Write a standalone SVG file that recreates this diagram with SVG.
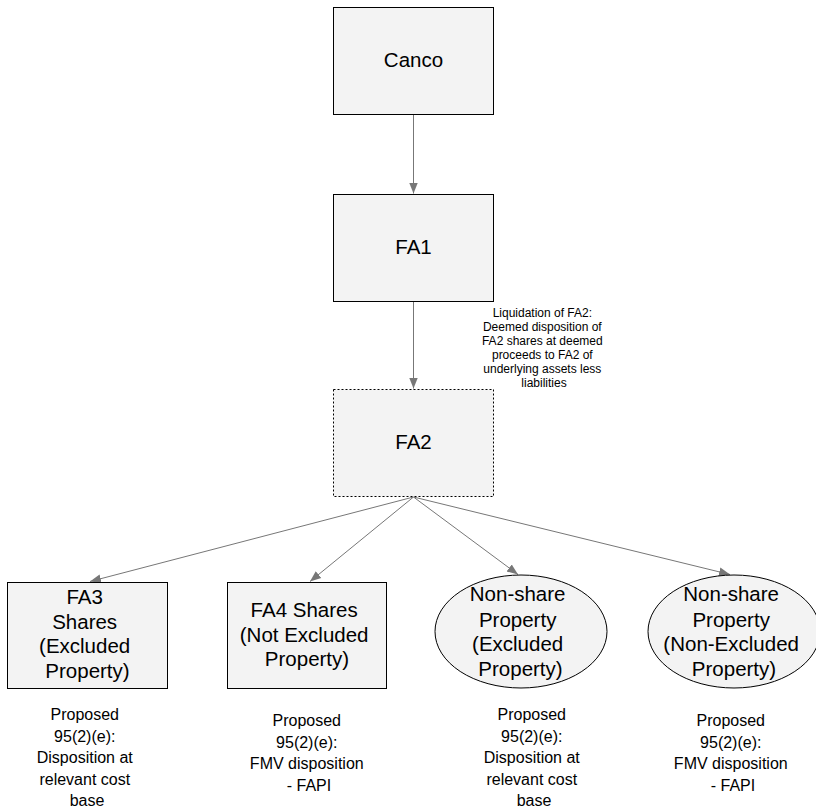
<svg xmlns="http://www.w3.org/2000/svg" width="816" height="810" viewBox="0 0 816 810">
  <style>
    .box { fill: #f3f3f3; stroke: #000; stroke-width: 1; }
    .dashed { stroke-dasharray: 2 2; }
    .edge { stroke: #777; stroke-width: 1; fill: none; marker-end: url(#arrow); }
    text { font-family: "Liberation Sans", Arial, sans-serif; fill: #000; text-anchor: middle; }
    .big { font-size: 20.5px; }
    .note { font-size: 16px; }
    .small { font-size: 12px; }
  </style>
  <defs>
    <marker id="arrow" viewBox="0 0 10 10" refX="10" refY="5" markerWidth="11" markerHeight="11" markerUnits="userSpaceOnUse" orient="auto">
      <path d="M0,1 L10,5 L0,9 Z" fill="#777"/>
    </marker>
  </defs>

  <rect width="816" height="810" fill="#fff"/>

  <!-- connectors -->
  <g id="connectors">
    <line class="edge" x1="413.5" y1="114" x2="413.5" y2="193.5"/>
    <line class="edge" x1="413.5" y1="301" x2="413.5" y2="388.5"/>
    <line class="edge" x1="413.5" y1="497" x2="90" y2="581.5"/>
    <line class="edge" x1="413.5" y1="497" x2="310" y2="581.5"/>
    <line class="edge" x1="413.5" y1="497" x2="518" y2="574.5"/>
    <line class="edge" x1="413.5" y1="497" x2="730" y2="574.5"/>
  </g>

  <g id="canco">
    <rect class="box" x="333.5" y="7.5" width="160" height="107"/>
    <text class="big" x="413.5" y="67">Canco</text>
  </g>

  <g id="fa1">
    <rect class="box" x="333.5" y="194.5" width="160" height="107"/>
    <text class="big" x="413.5" y="254">FA1</text>
  </g>

  <g id="liquidation-note">
    <text class="small">
      <tspan x="544" y="317">Liquidation of FA2:</tspan>
      <tspan x="544" y="331">Deemed disposition of</tspan>
      <tspan x="544" y="345">FA2 shares at deemed</tspan>
      <tspan x="544" y="359">proceeds to FA2 of</tspan>
      <tspan x="544" y="373">underlying assets less</tspan>
      <tspan x="544" y="387">liabilities</tspan>
    </text>
  </g>

  <g id="fa2">
    <rect class="box dashed" x="333.5" y="389.5" width="160" height="107"/>
    <text class="big" x="413.5" y="449">FA2</text>
  </g>

  <g id="fa3">
    <rect class="box" x="7.5" y="582.5" width="160" height="106"/>
    <text class="big">
      <tspan x="87.5" y="604">FA3</tspan>
      <tspan x="87.5" y="629">Shares</tspan>
      <tspan x="87.5" y="653">(Excluded</tspan>
      <tspan x="87.5" y="678">Property)</tspan>
    </text>
  </g>

  <g id="fa4">
    <rect class="box" x="227.5" y="582.5" width="159" height="106"/>
    <text class="big">
      <tspan x="307" y="617">FA4 Shares</tspan>
      <tspan x="307" y="642">(Not Excluded</tspan>
      <tspan x="307" y="666">Property)</tspan>
    </text>
  </g>

  <g id="nonshare-excluded">
    <ellipse class="box" cx="521" cy="631.5" rx="86" ry="56.5"/>
    <text class="big">
      <tspan x="520.5" y="601">Non-share</tspan>
      <tspan x="520.5" y="627">Property</tspan>
      <tspan x="520.5" y="651">(Excluded</tspan>
      <tspan x="520.5" y="676">Property)</tspan>
    </text>
  </g>

  <g id="nonshare-nonexcluded">
    <ellipse class="box" cx="734" cy="631.5" rx="86" ry="56.5"/>
    <text class="big">
      <tspan x="734" y="601">Non-share</tspan>
      <tspan x="734" y="627">Property</tspan>
      <tspan x="734" y="651">(Non-Excluded</tspan>
      <tspan x="734" y="676">Property)</tspan>
    </text>
  </g>

  <!-- outcome notes under each asset -->
  <g id="note-fa3">
    <text class="note">
      <tspan x="87" y="720">Proposed</tspan>
      <tspan x="87" y="741.5">95(2)(e):</tspan>
      <tspan x="87" y="763">Disposition at</tspan>
      <tspan x="87" y="784.5">relevant cost</tspan>
      <tspan x="87" y="806">base</tspan>
    </text>
  </g>
  <g id="note-fa4">
    <text class="note">
      <tspan x="309" y="726">Proposed</tspan>
      <tspan x="309" y="747.5">95(2)(e):</tspan>
      <tspan x="309" y="769">FMV disposition</tspan>
      <tspan x="309" y="790.5">- FAPI</tspan>
    </text>
  </g>
  <g id="note-nonshare-excluded">
    <text class="note">
      <tspan x="534" y="720">Proposed</tspan>
      <tspan x="534" y="741.5">95(2)(e):</tspan>
      <tspan x="534" y="763">Disposition at</tspan>
      <tspan x="534" y="784.5">relevant cost</tspan>
      <tspan x="534" y="806">base</tspan>
    </text>
  </g>
  <g id="note-nonshare-nonexcluded">
    <text class="note">
      <tspan x="733" y="726">Proposed</tspan>
      <tspan x="733" y="747.5">95(2)(e):</tspan>
      <tspan x="733" y="769">FMV disposition</tspan>
      <tspan x="733" y="790.5">- FAPI</tspan>
    </text>
  </g>
</svg>
